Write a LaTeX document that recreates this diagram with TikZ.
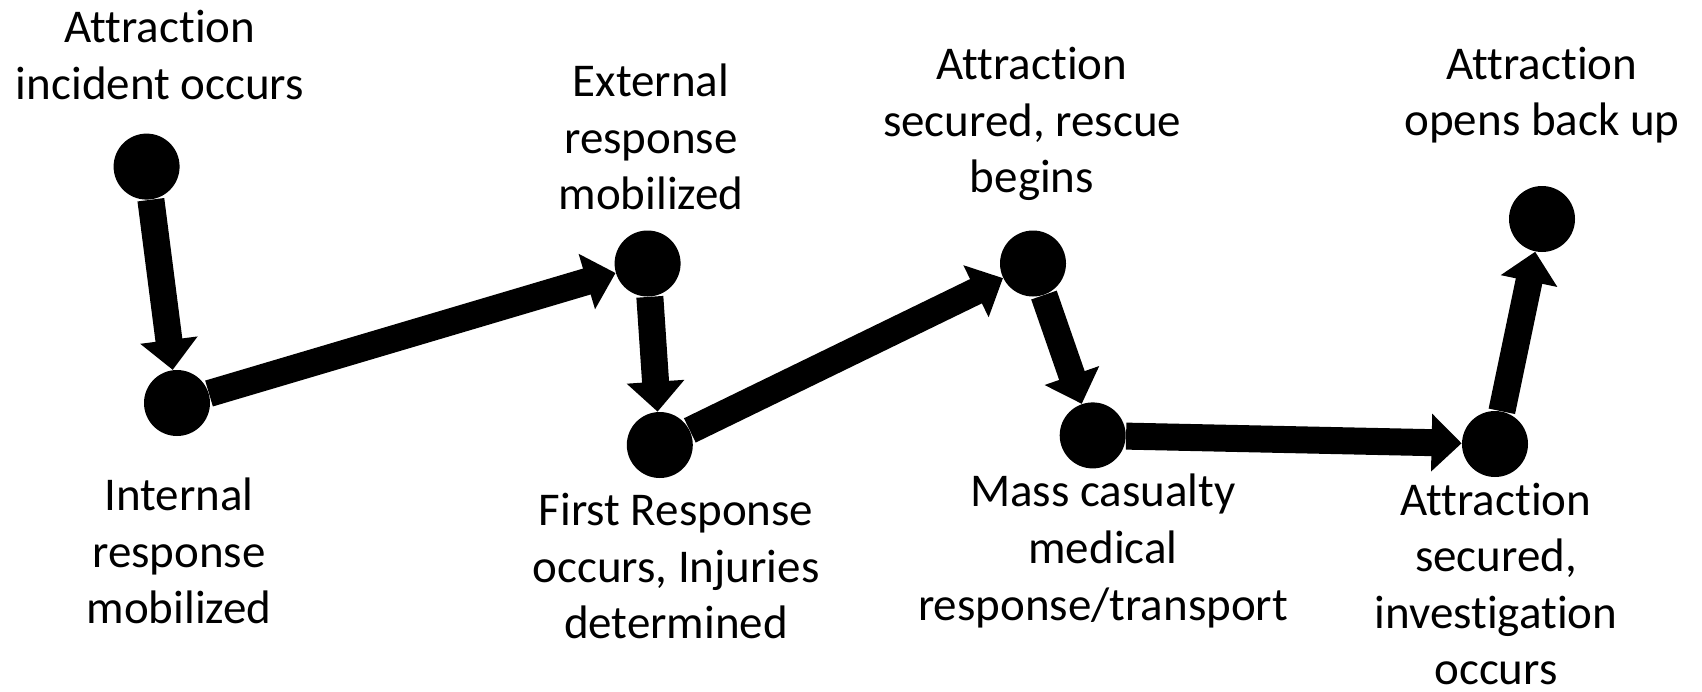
\documentclass[tikz,border=0pt]{standalone}
\usepackage{fontspec}
\setmainfont{Carlito}[Ligatures=NoCommon]
\usetikzlibrary{positioning,calc,arrows.meta}

\begin{document}
\begin{tikzpicture}[x=0.5pt,y=-0.5pt]
        \tikzset{
            stage/.style={circle, fill=black, inner sep=0pt, minimum size=33pt},
            note/.style={align=center, inner sep=0pt, font=\fontsize{23.5}{28.3}\selectfont},
            flow/.style={line width=13.5pt, -{Triangle[length=15pt, width=28pt]}}
        }
        \useasboundingbox (0,0) rectangle (1702,691);
        \node[stage] (E1) at (146.6,166.6) {};
        \node[stage] (E2) at (177,403) {};
        \node[stage] (E3) at (647.6,263.5) {};
        \node[stage] (E4) at (659.8,445) {};
        \node[stage] (E5) at (1033,263.5) {};
        \node[stage] (E6) at (1092.7,435.4) {};
        \node[stage] (E7) at (1495,444) {};
        \node[stage] (E8) at (1542,219) {};
        \node[note] (L1) at (160,55) {Attraction\\incident occurs};
        \node[note] (L2) at (179,551) {Internal\\response\\mobilized};
        \node[note] (L3) at (651,137) {External\\response\\mobilized};
        \node[note] (L4) at (676,566) {First Response\\occurs, Injuries\\determined};
        \node[note] (L5) at (1032,124) {Attraction\\secured, rescue\\begins};
        \node[note] (L6) at (1103,551) {Mass casualty\\medical\\response/transport};
        \node[note] (L7) at (1496,584) {Attraction\\secured,\\investigation\\occurs};
        \node[note] (L8) at (1542,95) {Attraction\\opens back up};
        \draw[flow] (E1) -- (E2);
        \draw[flow] (E2) -- (E3);
        \draw[flow] (E3) -- (E4);
        \draw[flow] (E4) -- (E5);
        \draw[flow] (E5) -- (E6);
        \draw[flow] (E6) -- (E7);
        \draw[flow] (E7) -- (E8);
    \end{tikzpicture}
\end{document}
